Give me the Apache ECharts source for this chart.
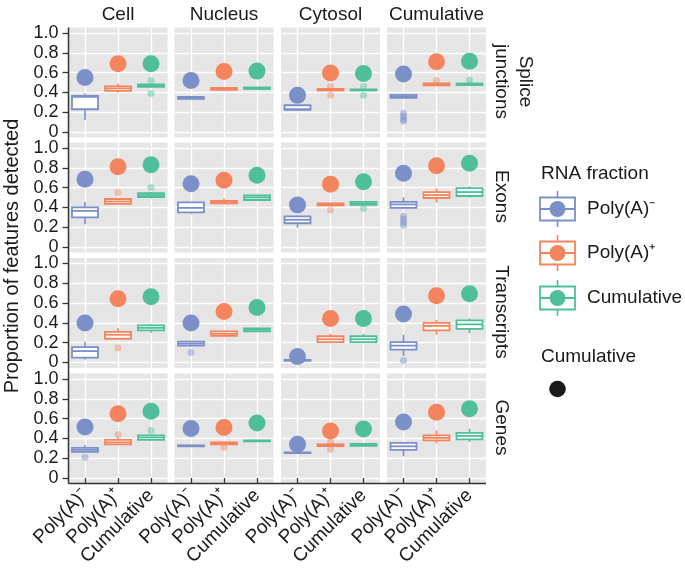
<!DOCTYPE html>
<html><head><meta charset="utf-8">
<script src="https://cdn.jsdelivr.net/npm/echarts@6/dist/echarts.min.js"></script>
<style>html,body{margin:0;padding:0;background:#fff}#c{width:685px;height:574px}</style>
</head><body><div id="c"></div>
<script>
// ---- data ----
const categories = ['Poly(A)\u207B', 'Poly(A)\u207A', 'Cumulative'];
const columns = ['Cell', 'Nucleus', 'Cytosol', 'Cumulative'];
const rowLabels = ['Splice\njunctions', 'Exons', 'Transcripts', 'Genes'];
const yTicks = [0, 0.2, 0.4, 0.6, 0.8, 1.0];

// boxes: per column (Cell, Nucleus, Cytosol, Cumulative), per category: [min, q1, median, q3, max]
const boxesSplice = [
  [[0.12, 0.23, 0.355, 0.365, 0.39], [0.40, 0.415, 0.44, 0.46, 0.49], [0.45, 0.455, 0.465, 0.48, 0.485]],
  [[0.335, 0.335, 0.345, 0.355, 0.36], [0.42, 0.425, 0.435, 0.445, 0.45], [0.43, 0.435, 0.44, 0.45, 0.455]],
  [[0.22, 0.225, 0.23, 0.27, 0.275], [0.42, 0.42, 0.43, 0.435, 0.44], [0.42, 0.42, 0.425, 0.43, 0.435]],
  [[0.34, 0.345, 0.36, 0.375, 0.385], [0.465, 0.47, 0.48, 0.49, 0.495], [0.47, 0.475, 0.48, 0.49, 0.50]]
];
const pointsSplice = [[0.55, 0.69, 0.69], [0.52, 0.61, 0.615], [0.37, 0.595, 0.59], [0.585, 0.71, 0.715]];
// outliers: [column, category, value]
const outliersSplice = [[0, 2, 0.52], [0, 2, 0.39], [2, 1, 0.46], [2, 1, 0.37], [2, 2, 0.46], [2, 2, 0.37],
  [3, 0, 0.19], [3, 0, 0.16], [3, 0, 0.13], [3, 0, 0.11], [3, 1, 0.52], [3, 2, 0.525]];

const boxesExons = [
  [[0.23, 0.30, 0.365, 0.40, 0.455], [0.43, 0.435, 0.46, 0.485, 0.495], [0.49, 0.505, 0.525, 0.545, 0.555]],
  [[0.335, 0.35, 0.395, 0.45, 0.455], [0.44, 0.44, 0.455, 0.465, 0.49], [0.47, 0.475, 0.50, 0.52, 0.525]],
  [[0.195, 0.24, 0.275, 0.31, 0.32], [0.42, 0.42, 0.43, 0.44, 0.445], [0.42, 0.425, 0.44, 0.455, 0.46]],
  [[0.39, 0.395, 0.43, 0.455, 0.50], [0.45, 0.495, 0.525, 0.555, 0.59], [0.50, 0.515, 0.555, 0.595, 0.61]]
];
const pointsExons = [[0.685, 0.81, 0.83], [0.64, 0.675, 0.725], [0.425, 0.635, 0.66], [0.745, 0.82, 0.845]];
const outliersExons = [[0, 1, 0.55], [0, 2, 0.60], [2, 1, 0.375], [2, 2, 0.39],
  [3, 0, 0.31], [3, 0, 0.28], [3, 0, 0.25], [3, 0, 0.22]];

const boxesTranscripts = [
  [[0.03, 0.05, 0.115, 0.155, 0.21], [0.23, 0.24, 0.28, 0.31, 0.345], [0.30, 0.325, 0.35, 0.375, 0.385]],
  [[0.16, 0.17, 0.19, 0.21, 0.22], [0.265, 0.27, 0.29, 0.315, 0.32], [0.31, 0.315, 0.33, 0.345, 0.35]],
  [[0.015, 0.018, 0.022, 0.027, 0.03], [0.20, 0.205, 0.235, 0.265, 0.29], [0.20, 0.205, 0.235, 0.265, 0.29]],
  [[0.065, 0.13, 0.17, 0.205, 0.28], [0.28, 0.325, 0.37, 0.40, 0.43], [0.295, 0.34, 0.385, 0.425, 0.445]]
];
const pointsTranscripts = [[0.40, 0.645, 0.665], [0.40, 0.515, 0.555], [0.06, 0.445, 0.445], [0.49, 0.675, 0.695]];
const outliersTranscripts = [[0, 1, 0.15], [1, 0, 0.10], [3, 0, 0.02]];

const boxesGenes = [
  [[0.26, 0.265, 0.285, 0.305, 0.33], [0.335, 0.34, 0.36, 0.385, 0.41], [0.38, 0.385, 0.41, 0.43, 0.44]],
  [[0.32, 0.32, 0.325, 0.33, 0.33], [0.335, 0.34, 0.35, 0.36, 0.365], [0.37, 0.37, 0.375, 0.38, 0.38]],
  [[0.25, 0.252, 0.255, 0.258, 0.26], [0.32, 0.322, 0.33, 0.34, 0.345], [0.32, 0.325, 0.335, 0.345, 0.35]],
  [[0.22, 0.285, 0.32, 0.355, 0.36], [0.35, 0.38, 0.405, 0.43, 0.48], [0.365, 0.39, 0.425, 0.455, 0.50]]
];
const pointsGenes = [[0.515, 0.65, 0.675], [0.50, 0.51, 0.555], [0.34, 0.475, 0.495], [0.565, 0.665, 0.70]];
const outliersGenes = [[0, 0, 0.21], [0, 1, 0.44], [0, 2, 0.48], [1, 1, 0.31], [2, 1, 0.29], [2, 1, 0.36]];

const legendTitle = 'RNA fraction';
const legendTitle2 = 'Cumulative';
const yTitle = 'Proportion of features detected';

// ---- layout / style ----
const FONT = '"Liberation Sans", Arial, Helvetica, sans-serif';
const TXT = '#1a1a1a';
const colors = ['#7b8fc8', '#f4845d', '#4fbf9b'];
const colLeft = [68.5, 174.5, 281, 387];
const panelW = 99;
const rowTop = [33, 148, 263.5, 379];
const dataH = 99;
const pad = 5.5;
const rowsData = [
  [boxesSplice, pointsSplice, outliersSplice],
  [boxesExons, pointsExons, outliersExons],
  [boxesTranscripts, pointsTranscripts, outliersTranscripts],
  [boxesGenes, pointsGenes, outliersGenes]
];

function renderBox(params, api) {
  const i = api.value(0);
  const col = colors[i];
  const pMin = api.coord([i, api.value(1)]);
  const pQ1 = api.coord([i, api.value(2)]);
  const pMed = api.coord([i, api.value(3)]);
  const pQ3 = api.coord([i, api.value(4)]);
  const pMax = api.coord([i, api.value(5)]);
  const x = pMin[0], hw = 13;
  return {
    type: 'group', children: [
      { type: 'line', shape: { x1: x, y1: pMax[1], x2: x, y2: pQ3[1] }, style: { stroke: col, lineWidth: 1.6 } },
      { type: 'line', shape: { x1: x, y1: pQ1[1], x2: x, y2: pMin[1] }, style: { stroke: col, lineWidth: 1.6 } },
      { type: 'rect', shape: { x: x - hw, y: pQ3[1], width: 2 * hw, height: pQ1[1] - pQ3[1] }, style: { fill: '#ffffff', stroke: col, lineWidth: 1.8 } },
      { type: 'line', shape: { x1: x - hw, y1: pMed[1], x2: x + hw, y2: pMed[1] }, style: { stroke: col, lineWidth: 1.8 } }
    ]
  };
}

const grids = [], xAxes = [], yAxes = [], series = [];
for (let r = 0; r < 4; r++) {
  const [boxes, points, outliers] = rowsData[r];
  for (let c = 0; c < 4; c++) {
    const k = r * 4 + c, bg = 2 * k, dg = 2 * k + 1;
    // background panel grid
    grids.push({ left: colLeft[c], top: rowTop[r] - pad, width: panelW, height: dataH + 2 * pad, show: true, backgroundColor: '#e5e5e5', borderWidth: 0 });
    xAxes.push({ gridIndex: bg, type: 'value', min: 0.5, max: 3.5, splitNumber: 3, axisLine: { show: false }, axisTick: { show: false }, axisLabel: { show: false },
      splitLine: { show: true, showMinLine: false, showMaxLine: false, lineStyle: { color: '#ffffff', width: 1.3 } } });
    yAxes.push({ gridIndex: bg, type: 'value', min: 0, max: 1, axisLine: { show: false }, axisTick: { show: false }, axisLabel: { show: false }, splitLine: { show: false } });
    // data grid
    grids.push({ left: colLeft[c], top: rowTop[r], width: panelW, height: dataH, show: false });
    const bottom = r === 3;
    xAxes.push({ gridIndex: dg, type: 'category', data: categories, boundaryGap: true, offset: 5.5,
      axisLine: { show: false },
      axisTick: { show: bottom, alignWithLabel: true, length: 6, lineStyle: { color: '#333', width: 1.3 } },
      axisLabel: { show: bottom, interval: 0, hideOverlap: false, rotate: 45, margin: 9, fontSize: 19, color: TXT, fontFamily: FONT },
      splitLine: { show: false } });
    yAxes.push({ gridIndex: dg, type: 'value', min: 0, max: 1, interval: 0.2,
      axisLine: { show: false },
      axisTick: { show: c === 0, length: 6, lineStyle: { color: '#333', width: 1.3 } },
      axisLabel: { show: c === 0, margin: 10, fontSize: 18, color: TXT, fontFamily: FONT,
        formatter: v => (v === 0 ? '0' : v.toFixed(1)) },
      splitLine: { show: true, lineStyle: { color: '#ffffff', width: 1.3 } } });
    series.push({ type: 'custom', xAxisIndex: dg, yAxisIndex: dg, renderItem: renderBox, z: 2,
      encode: { x: 0, y: [1, 2, 3, 4, 5] },
      data: boxes[c].map((b, i) => [i, b[0], b[1], b[2], b[3], b[4]]) });
    series.push({ type: 'scatter', xAxisIndex: dg, yAxisIndex: dg, symbolSize: 7, z: 3, silent: true,
      data: outliers.filter(o => o[0] === c).map(o => ({ value: [o[1], o[2]], itemStyle: { color: colors[o[1]], opacity: 0.45 } })) });
    series.push({ type: 'scatter', xAxisIndex: dg, yAxisIndex: dg, symbolSize: 17, z: 4, silent: true,
      data: points[c].map((v, i) => ({ value: [i, v], itemStyle: { color: colors[i], opacity: 1 } })) });
  }
}

// ---- decorations: strips, axis lines, titles, legend ----
const graphics = [];
const axisBottom = rowTop[3] + dataH + pad;
graphics.push({ type: 'line', shape: { x1: colLeft[0], y1: rowTop[0] - pad, x2: colLeft[0], y2: axisBottom }, style: { stroke: '#333', lineWidth: 1.5 }, z: 10 });
graphics.push({ type: 'line', shape: { x1: colLeft[0], y1: axisBottom, x2: colLeft[3] + panelW, y2: axisBottom }, style: { stroke: '#333', lineWidth: 1.5 }, z: 10 });
columns.forEach((t, c) => graphics.push({ type: 'text', x: colLeft[c] + panelW / 2, y: 15,
  style: { text: t, fontSize: 19, fontFamily: FONT, fill: TXT, align: 'center', verticalAlign: 'middle' } }));
rowLabels.forEach((t, r) => {
  const lines = t.split('\n');
  lines.forEach((ln, j) => graphics.push({ type: 'text', x: 501 + (lines.length - 1 - j) * 24, y: rowTop[r] + dataH / 2 - 1, rotation: -Math.PI / 2,
    style: { text: ln, fontSize: 19, fontFamily: FONT, fill: TXT, align: 'center', verticalAlign: 'middle' } }));
});
graphics.push({ type: 'text', x: 12, y: 256, rotation: Math.PI / 2,
  style: { text: yTitle, fontSize: 20, fontFamily: FONT, fill: TXT, align: 'center', verticalAlign: 'middle' } });
// legend
graphics.push({ type: 'text', x: 541, y: 174, style: { text: legendTitle, fontSize: 19, fontFamily: FONT, fill: TXT, align: 'left', verticalAlign: 'middle' } });
const keyY = [209, 253, 298];
categories.forEach((cat, i) => {
  const cx = 557.5, cy = keyY[i], col = colors[i];
  graphics.push({ type: 'line', shape: { x1: cx, y1: cy - 18, x2: cx, y2: cy + 18 }, style: { stroke: col, lineWidth: 1.6 } });
  graphics.push({ type: 'rect', shape: { x: cx - 17.5, y: cy - 11.5, width: 35, height: 23 }, style: { fill: '#ffffff', stroke: col, lineWidth: 1.8 } });
  graphics.push({ type: 'line', shape: { x1: cx - 17.5, y1: cy, x2: cx + 17.5, y2: cy }, style: { stroke: col, lineWidth: 1.8 } });
  graphics.push({ type: 'circle', shape: { cx: cx, cy: cy, r: 8 }, style: { fill: col } });
  graphics.push({ type: 'text', x: 587, y: cy, style: { text: cat, fontSize: 19, fontFamily: FONT, fill: TXT, align: 'left', verticalAlign: 'middle' } });
});
graphics.push({ type: 'text', x: 541, y: 357, style: { text: legendTitle2, fontSize: 19, fontFamily: FONT, fill: TXT, align: 'left', verticalAlign: 'middle' } });
graphics.push({ type: 'circle', shape: { cx: 557.5, cy: 389, r: 8.3 }, style: { fill: '#1a1a1a' } });

const chart = echarts.init(document.getElementById('c'), null, { renderer: 'canvas' });
chart.setOption({
  animation: false,
  backgroundColor: '#ffffff',
  textStyle: { fontFamily: FONT },
  grid: grids, xAxis: xAxes, yAxis: yAxes, series: series, graphic: graphics
});
</script></body></html>
